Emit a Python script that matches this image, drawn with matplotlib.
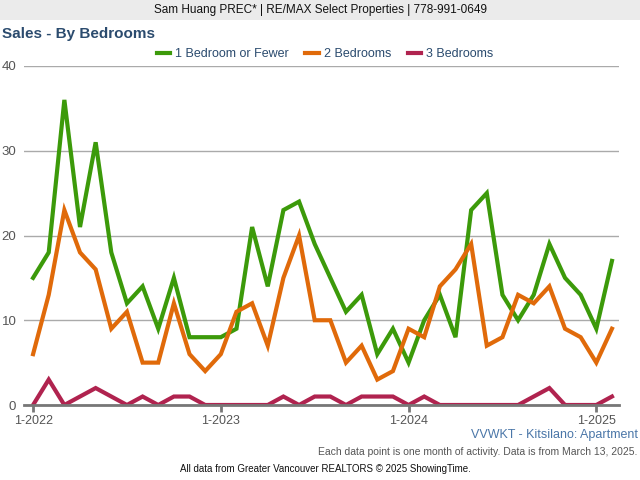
import numpy as np
import matplotlib
matplotlib.use("Agg")
import matplotlib.pyplot as plt
from matplotlib.patches import Rectangle

plt.rcParams['font.family'] = ['Liberation Sans', 'DejaVu Sans']

# monthly sales, Jan 2022 .. Feb 2025
months = ["%d-%d" % (m, y) for y in (2022, 2023, 2024, 2025) for m in range(1, 13)][:38]
one_bed = [15, 18, 36, 21, 31, 18, 12, 14, 9, 15, 8, 8,
           8, 9, 21, 14, 23, 24, 19, 15, 11, 13, 6, 9,
           5, 10, 13, 8, 23, 25, 13, 10, 13, 19, 15, 13,
           9, 17]
two_bed = [6, 13, 23, 18, 16, 9, 11, 5, 5, 12, 6, 4,
           6, 11, 12, 7, 15, 20, 10, 10, 5, 7, 3, 4,
           9, 8, 14, 16, 19, 7, 8, 13, 12, 14, 9, 8,
           5, 9]
three_bed = [0, 3, 0, 1, 2, 1, 0, 1, 0, 1, 1, 0,
             0, 0, 0, 0, 1, 0, 1, 1, 0, 1, 1, 1,
             0, 1, 0, 0, 0, 0, 0, 0, 1, 2, 0, 0,
             0, 1]
series_names = ["1 Bedroom or Fewer", "2 Bedrooms", "3 Bedrooms"]
colors = ["#3c9a0a", "#e06a0a", "#b0234f"]
yticks = [0, 10, 20, 30, 40]

fig = plt.figure(figsize=(6.4, 4.8), dpi=100)

# header band
fig.patches.append(Rectangle((0, 1 - 20/480), 1, 20/480, transform=fig.transFigure,
                             facecolor="#ebebeb", edgecolor="none"))
fig.text(0.5, 1 - 10/480, "Sam Huang PREC* | RE/MAX Select Properties | 778-991-0649",
         ha="center", va="center", fontsize=8.5, color="#111111")
fig.text(2/640, 1 - 34/480, "Sales - By Bedrooms", ha="left", va="center",
         fontsize=11, fontweight="bold", color="#2b4b6e")

ax = fig.add_axes([24/640, 1 - 405/480, 595/640, 339/480])
x = np.arange(len(one_bed))
for vals, name, c in zip([one_bed, two_bed, three_bed], series_names, colors):
    ax.plot(x, vals, color=c, lw=3, label=name, solid_joinstyle="miter", zorder=3)

ax.set_xlim(-0.58, 37.45)
ax.set_ylim(0, 40)
ax.set_yticks(yticks)
ax.grid(axis="y", color="#aaaaaa", lw=1)
ax.set_axisbelow(True)
for s in ["top", "right", "left"]:
    ax.spines[s].set_visible(False)
ax.spines["bottom"].set_color("#777777")
ax.spines["bottom"].set_linewidth(2)
ax.spines["bottom"].set_zorder(4)
jan = [i for i in x if months[i].startswith("1-")]
ax.set_xticks(jan)
ax.set_xticklabels([months[i] for i in jan])
ax.tick_params(axis="x", direction="out", length=5, width=2, color="#777777",
               labelsize=9, labelcolor="#555555", pad=2)
ax.tick_params(axis="y", length=0, labelsize=9.5, labelcolor="#555555", pad=5.5)

fig.legend(loc="center", bbox_to_anchor=(0.508, 1 - 54/480), ncol=3, frameon=False,
           fontsize=9, handlelength=1.1, handletextpad=0.4, columnspacing=1.3,
           labelcolor="#2b4b6e")

fig.text(638/640, 1 - 435/480, "VVWKT - Kitsilano: Apartment", ha="right", va="center",
         fontsize=9, color="#4a76a8")
fig.text(637/640, 1 - 452/480,
         "Each data point is one month of activity. Data is from March 13, 2025.",
         ha="right", va="center", fontsize=7.5, color="#555555")
fig.text(180/640, 1 - 469/480,
         "All data from Greater Vancouver REALTORS \u00a9 2025 ShowingTime.",
         ha="left", va="center", fontsize=7, color="#111111")

fig.savefig("out.png", dpi=100)
